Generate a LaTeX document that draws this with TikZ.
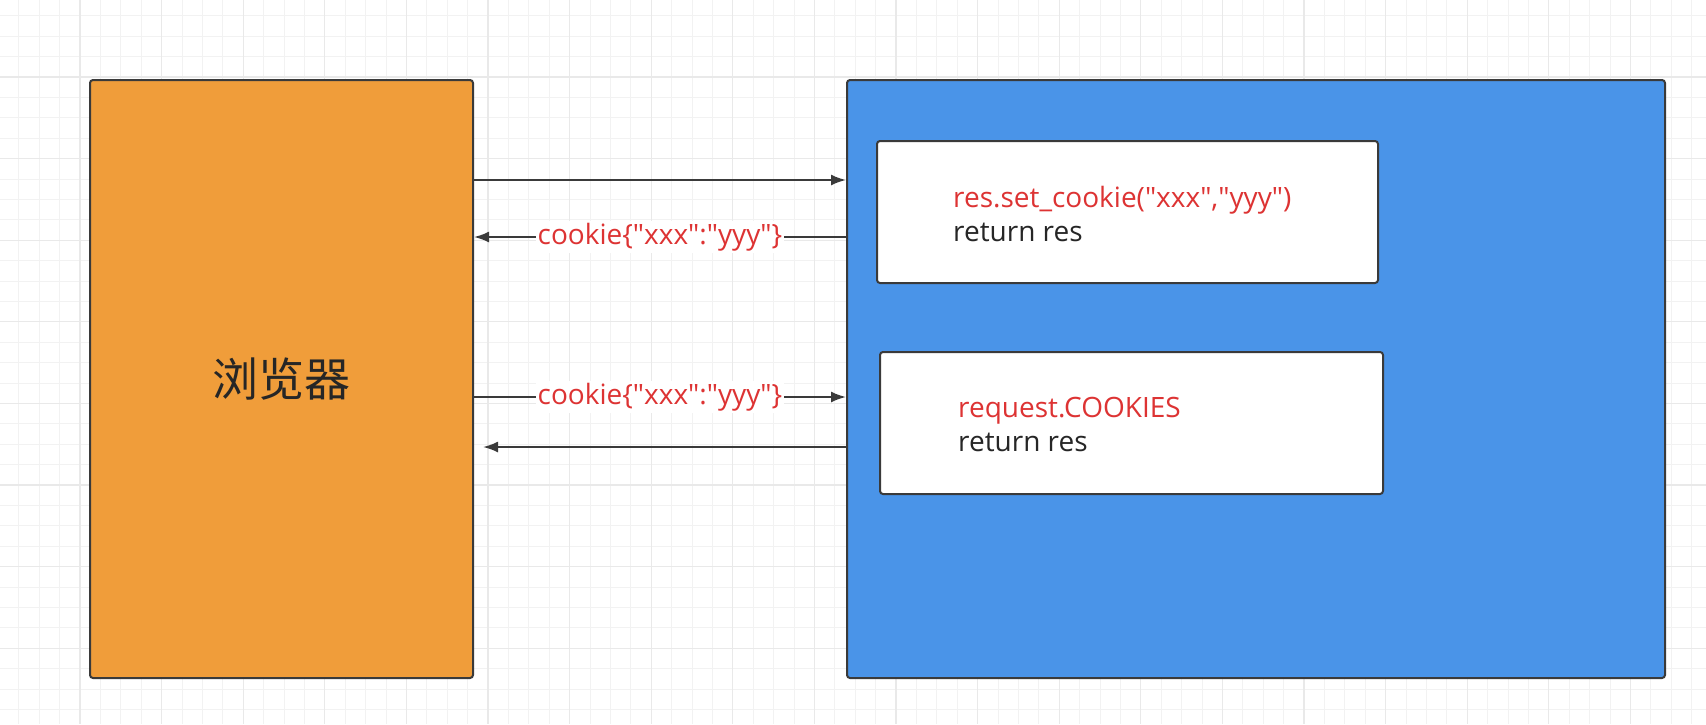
\documentclass[tikz,border=0pt]{standalone}
\usepackage{fontspec}
\setmainfont{Open Sans}
\newfontfamily\cjk{Noto Sans CJK SC}
\usepackage{tikz}
\usetikzlibrary{arrows.meta}
\definecolor{boxorange}{RGB}{240,157,58}
\definecolor{boxblue}{RGB}{74,148,232}
\definecolor{codered}{RGB}{221,51,51}
\definecolor{edgegray}{RGB}{58,58,58}
\definecolor{gridminor}{RGB}{242,242,242}
\definecolor{gridmajor}{RGB}{233,233,233}
\newcommand\qd{\textquotedbl}
\tikzset{
  box/.style={draw=edgegray, line width=2pt, rounded corners=3pt, inner sep=0pt, anchor=north west},
  msg/.style={draw=edgegray, line width=2pt, -{Latex[length=15pt,width=11pt]}},
  tag/.style={fill=white, text=codered, inner sep=2pt, font=\fontsize{28}{32}\selectfont},
  code/.style={anchor=west, align=left, inner sep=0pt, font=\fontsize{28}{34}\selectfont}
}
\begin{document}
\begin{tikzpicture}[x=1pt,y=-1pt]
    \useasboundingbox (0,0) rectangle (1706,724);
    \fill[white] (0,0) rectangle (1706,724);
    \foreach \k in {0,...,84}
      \draw[gridminor, line width=1pt] (-1.6+20.4*\k,0) -- (-1.6+20.4*\k,724);
    \foreach \k in {0,...,36}
      \draw[gridminor, line width=1pt] (0,-4.6+20.4*\k) -- (1706,-4.6+20.4*\k);
    \foreach \k in {0,...,21}
      \draw[gridmajor, line width=1.2pt] (-1.6+81.6*\k,0) -- (-1.6+81.6*\k,724);
    \foreach \k in {0,...,9}
      \draw[gridmajor, line width=1.2pt] (0,-4.6+81.6*\k) -- (1706,-4.6+81.6*\k);
    \node[box, fill=boxorange, minimum width=383pt, minimum height=598pt,
      font=\cjk\fontsize{46}{46}\selectfont, text=black!85] (browser) at (89,79) {浏览器};
    \node[box, fill=boxblue, minimum width=818pt, minimum height=598pt] (server) at (846,79) {};
    \node[box, fill=white, minimum width=501pt, minimum height=142pt] (setbox) at (876,140) {};
    \node[box, fill=white, minimum width=503pt, minimum height=142pt] (readbox) at (879,351) {};
    \node[code] (setcode) at ([shift={(77pt,-2pt)}]setbox.west)
      {\textcolor{codered}{res.set\_cookie(\qd xxx\qd,\qd yyy\qd)}\\ \textcolor{black!85}{return res}};
    \node[code] (readcode) at ([shift={(79pt,-1pt)}]readbox.west)
      {\textcolor{codered}{request.COOKIES}\\ \textcolor{black!85}{return res}};
    \draw[msg] ([yshift=-101pt]browser.north east) -- ([yshift=-101pt]server.north west);
    \draw[msg] ([yshift=-158pt]server.north west) -- node[tag] {cookie\{\qd xxx\qd:\qd yyy\qd\}}
      ([yshift=-158pt]browser.north east);
    \draw[msg] ([yshift=-318pt]browser.north east) -- node[tag] {cookie\{\qd xxx\qd:\qd yyy\qd\}}
      ([yshift=-318pt]server.north west);
    \draw[msg] ([yshift=-368pt]server.north west) -- ([shift={(9pt,-368pt)}]browser.north east);
\end{tikzpicture}
\end{document}
